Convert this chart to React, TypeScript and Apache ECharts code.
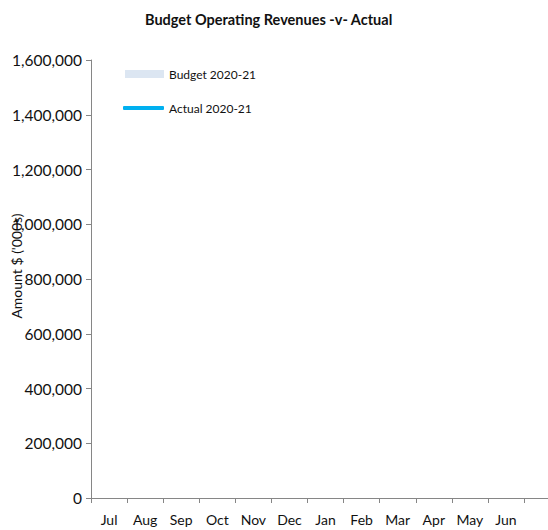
import React, { useEffect, useRef } from "react";
import * as echarts from "echarts";

const months = ["Jul", "Aug", "Sep", "Oct", "Nov", "Dec", "Jan", "Feb", "Mar", "Apr", "May", "Jun"];
const budget2021: (number | null)[] = [null, null, null, null, null, null, null, null, null, null, null, null];
const actual2021: (number | null)[] = [null, null, null, null, null, null, null, null, null, null, null, null];
const yMin = 0;
const yMax = 1600000;
const yStep = 200000;

const FONT = "Lato, 'Open Sans', sans-serif";

export default function App() {
  const ref = useRef<HTMLDivElement>(null);
  useEffect(() => {
    document.body.style.margin = "0";
    if (!ref.current) return;
    const chart = echarts.init(ref.current, undefined, { renderer: "svg" });
    chart.setOption({
      animation: false,
      backgroundColor: "#ffffff",
      title: {
        text: "Budget Operating Revenues -v- Actual",
        left: 140,
        top: 7,
        textStyle: { fontFamily: FONT, fontSize: 14.5, fontWeight: "bold", color: "#111" },
      },
      legend: [
        {
          data: ["Budget 2020-21"],
          left: 120,
          top: 63,
          orient: "vertical",
          icon: "rect",
          itemWidth: 39,
          itemHeight: 8,
          textStyle: { fontFamily: FONT, fontSize: 12, color: "#111" },
        },
        {
          data: ["Actual 2020-21"],
          left: 118,
          top: 97,
          orient: "vertical",
          icon: "roundRect",
          itemWidth: 41,
          itemHeight: 4,
          textStyle: { fontFamily: FONT, fontSize: 12, color: "#111" },
        },
      ],
      grid: { left: 91, top: 60, right: 24, bottom: 32, containLabel: false },
      xAxis: {
        type: "category",
        data: months,
        boundaryGap: true,
        axisLine: { show: true, lineStyle: { color: "#868686", width: 1 } },
        axisTick: { show: true, length: 5, alignWithLabel: false, lineStyle: { color: "#868686" } },
        axisLabel: { fontFamily: FONT, fontSize: 14, color: "#111", margin: 14, interval: 0 },
        splitLine: { show: false },
      },
      yAxis: {
        type: "value",
        min: yMin,
        max: yMax,
        interval: yStep,
        axisLine: { show: true, lineStyle: { color: "#868686", width: 1 } },
        axisTick: { show: true, length: 5, lineStyle: { color: "#868686" } },
        axisLabel: {
          fontFamily: FONT,
          fontSize: 15.5,
          color: "#111",
          margin: 9,
          formatter: (v: number) => v.toLocaleString("en-US"),
        },
        splitLine: { show: false },
      },
      graphic: [
        {
          type: "line",
          shape: { x1: 524, y1: 498.5, x2: 548, y2: 498.5 },
          style: { stroke: "#868686", lineWidth: 1 },
          silent: true,
        },
        {
          type: "text",
          x: 16,
          y: 266,
          rotation: Math.PI / 2,
          style: {
            text: "Amount $ ('000s)",
            fontFamily: FONT,
            fontSize: 14,
            fill: "#111",
            align: "center",
            verticalAlign: "middle",
          },
        },
      ],
      series: [
        {
          name: "Budget 2020-21",
          type: "bar",
          data: budget2021,
          itemStyle: { color: "#dce6f2" },
          barWidth: "60%",
        },
        {
          name: "Actual 2020-21",
          type: "line",
          data: actual2021,
          symbol: "none",
          lineStyle: { color: "#00b0f0", width: 4 },
          itemStyle: { color: "#00b0f0" },
        },
      ],
    });
    return () => chart.dispose();
  }, []);
  return <div ref={ref} style={{ width: 548, height: 530 }} />;
}
